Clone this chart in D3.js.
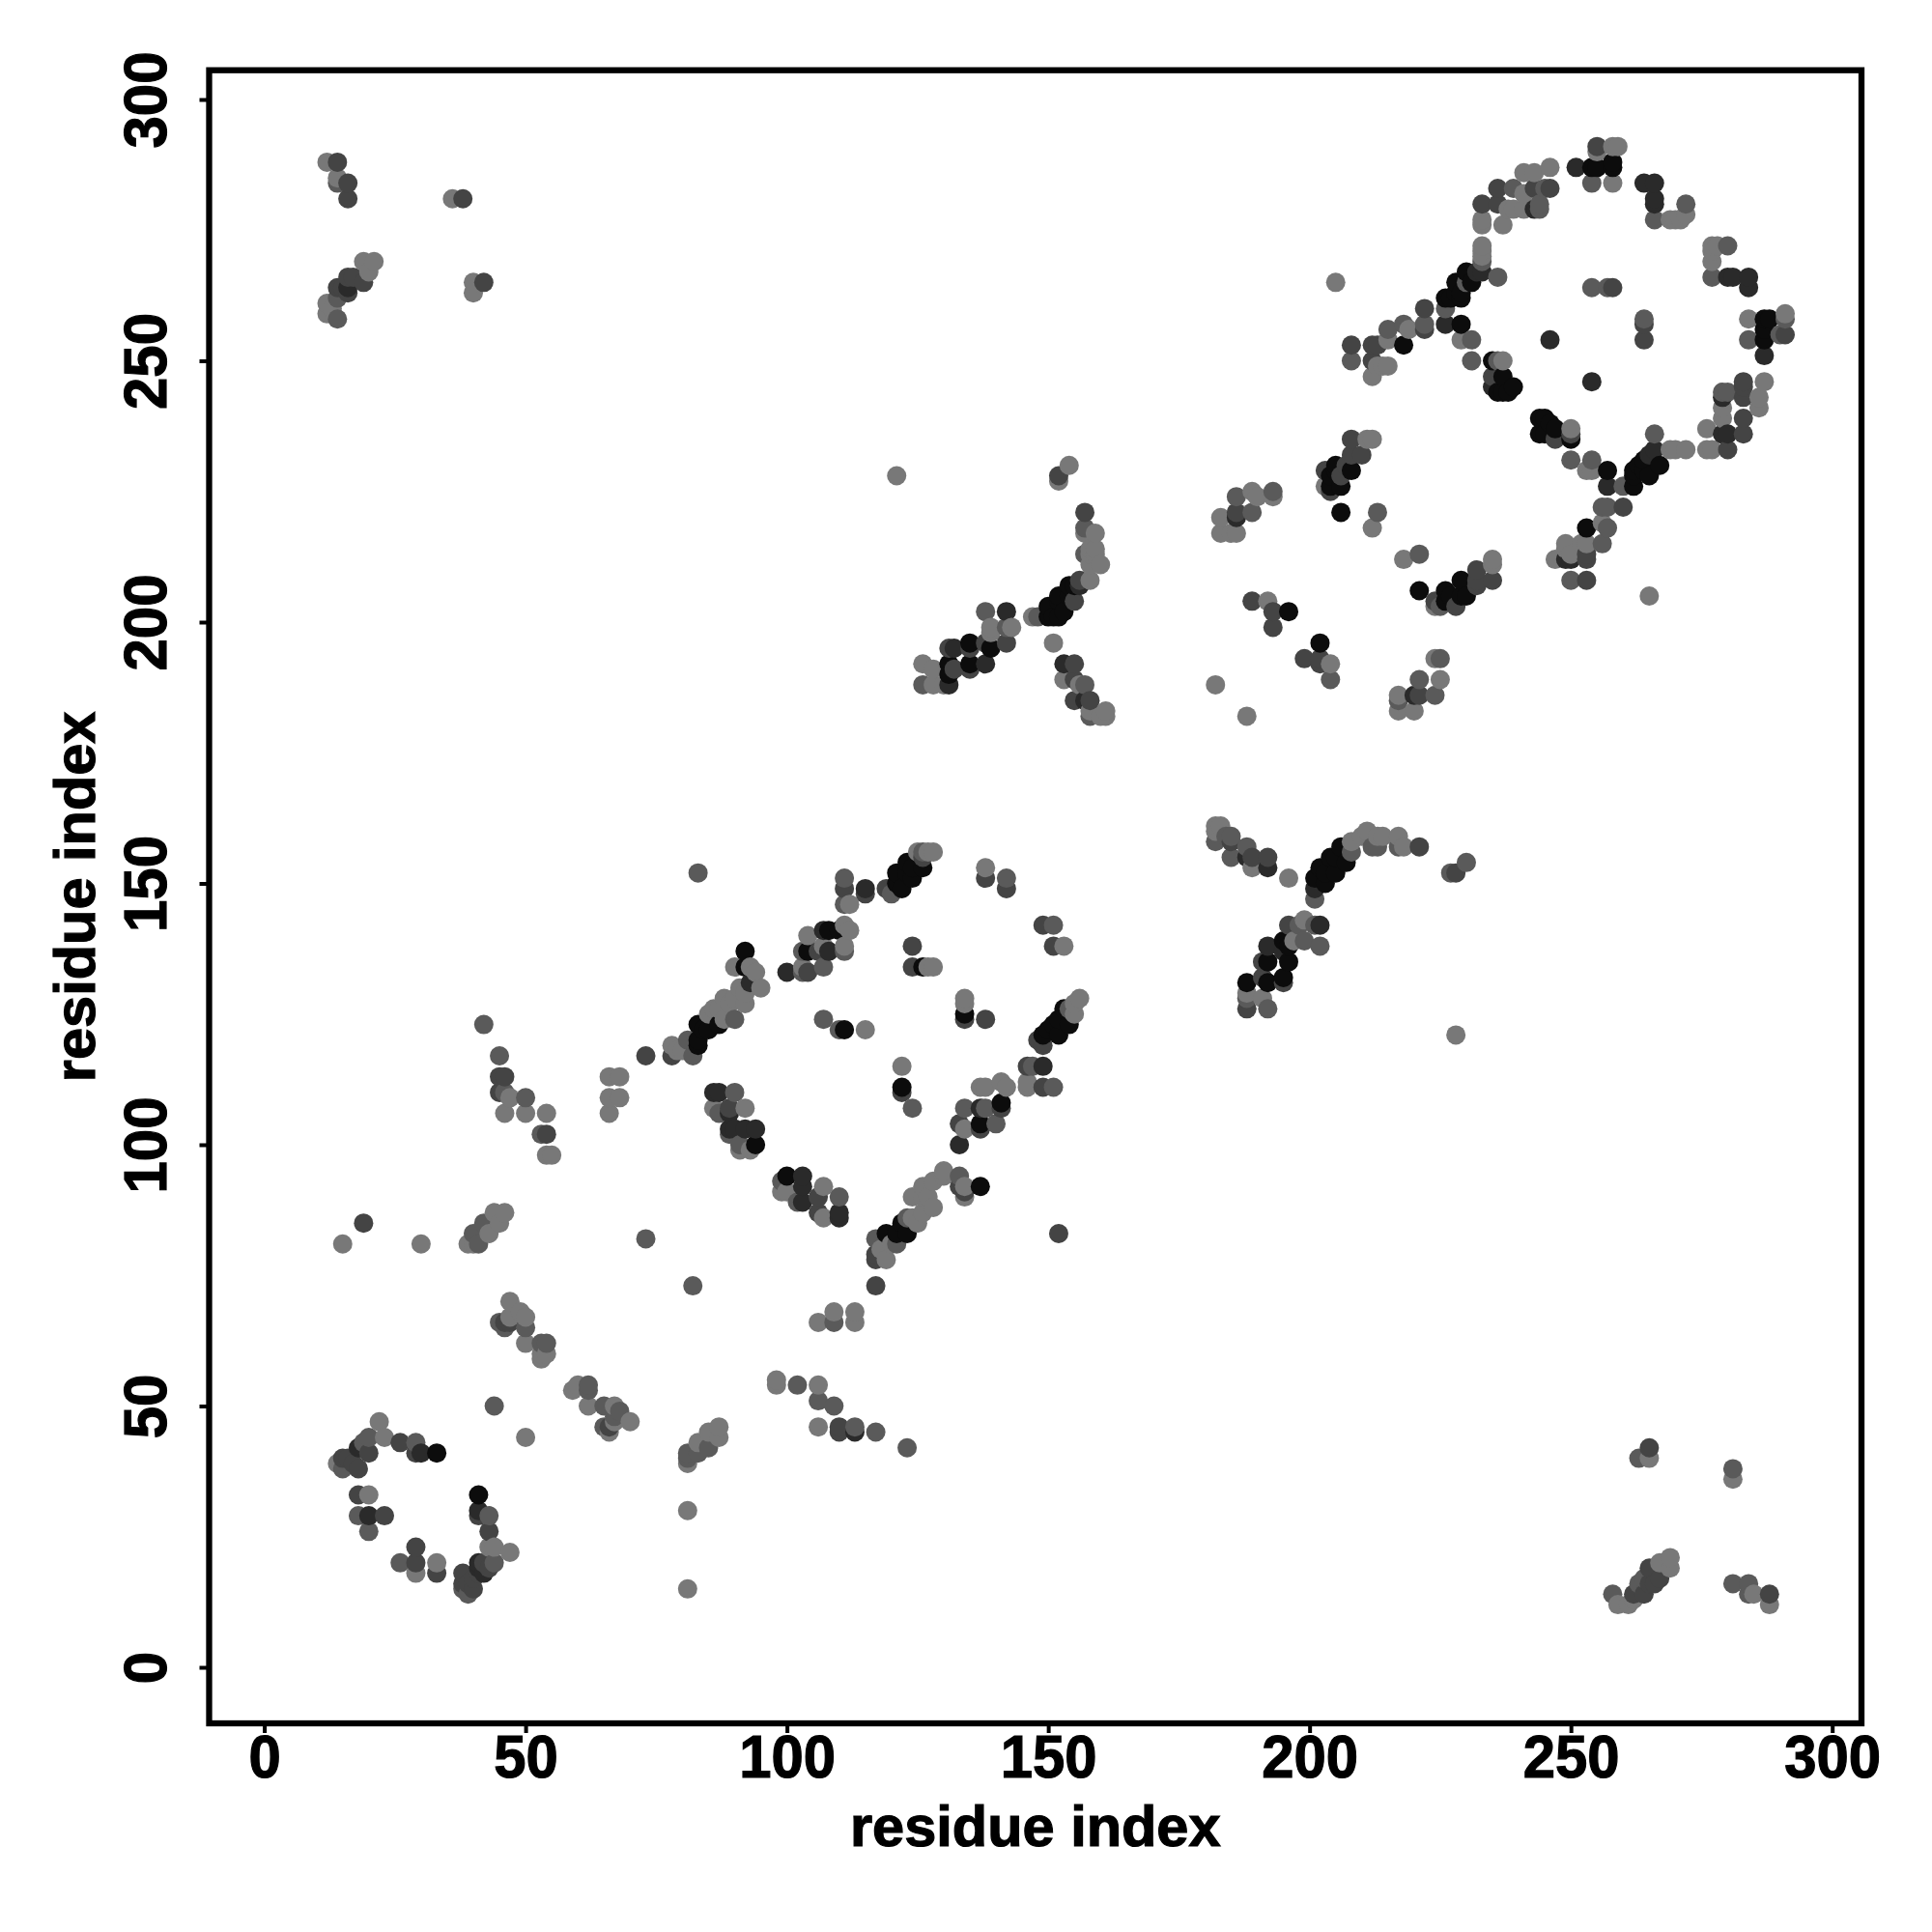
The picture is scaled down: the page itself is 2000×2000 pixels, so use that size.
<!DOCTYPE html>
<html><head><meta charset="utf-8">
<script src="https://cdn.jsdelivr.net/npm/d3@7"></script>
<style>html,body{margin:0;background:#fff}svg{display:block}</style></head>
<body><svg id="c" width="2000" height="2000"></svg>
<script>
const tickValues=[0,50,100,150,200,250,300];
const axisTitle="residue index";
const shadeLight=[[15,81],[30,81],[39,81],[40,81],[43,83],[45,85],[44,87],[46,87],[47,70],[49,68],[50,67],[47,67],[50,62],[53,59],[54,60],[53,60],[50,44],[59,53],[60,54],[62,50],[67,50],[70,47],[66,45],[67,47],[81,39],[83,43],[85,45],[87,46],[87,44],[81,30],[81,15],[22,47],[23,44],[14,39],[20,33],[33,20],[29,18],[43,23],[44,23],[47,22],
[112,146],[125,156],[127,156],[128,156],[138,153],[153,138],[127,134],[128,134],[134,128],[134,127],[115,122],[122,115],[90,134],[93,134],[94,133],[95,130],[92,129],[88,128],[91,130],[90,128],[92,127],[89,127],[86,126],[85,125],[78,119],[79,118],[80,118],[88,124],[87,126],[68,113],[68,109],[66,113],[66,109],[66,106],[104,140],[111,142],[112,141],[111,138],[107,138],[103,134],[86,107],[92,107],[91,99],[93,99],[99,91],[100,91],[107,92],[107,86],[134,103],[137,111],[138,111],[141,112],[142,111],[146,112],[146,111],[156,128],[155,127],[155,125],[134,92],[134,90],[130,95],[130,94],[128,93],[126,92],[124,90],[126,90],[128,88],[125,85],[119,78],[120,81],[126,87],[124,86],[127,90],[118,80],
[46,106],[50,106],[54,106],[54,98],[55,98],[47,109],[106,66],[109,68],[113,68],[113,66],[98,55],[98,54],[106,54],[106,46],
[12,288],[14,285],[36,281],[40,265],[40,263],[19,269],[21,269],[20,267],[12,261],[12,259],[13,260],[265,40],[281,36],[285,14],[288,12],[259,12],[261,12],[262,13],[267,20],[269,21],[269,19],
[182,161],[183,161],[182,160],[189,153],[196,151],[208,158],[211,160],[210,159],[213,159],[214,159],[217,159],[218,157],[228,121],[199,143],[197,139],[188,129],[191,128],
[121,228],[154,230],[152,227],[159,217],[157,217],[159,214],[159,213],[160,211],[158,211],[158,208],[147,201],[158,213],[158,214],[151,196],[139,199],[143,199],[139,198],[126,192],[128,191],[128,188],[130,188],[153,189],[156,188],[158,183],[161,183],[161,182],[160,182],[182,188],[188,182],[189,225],[190,224],[193,224],[183,220],[183,217],[185,217],[186,217],[192,204],[204,192],[212,218],[218,212],[235,212],[235,211],[224,203],[224,193],[225,189],[217,186],[217,183],[220,183],[211,235],[212,235],[203,226],
[259,291],[258,291],[255,290],[258,284],[269,277],[270,277],[271,277],[272,278],[246,287],[243,286],[241,286],[238,279],[239,279],[241,282],[241,279],[233,277],[233,276],[237,276],[233,272],[233,271],[233,270],[219,256],[215,254],[213,249],[214,249],[215,249],[212,247],[229,254],[277,272],[278,272],[277,271],[277,269],[284,258],[291,259],[287,246],[286,243],[286,241],[279,241],[279,239],[276,237],[276,233],[277,233],[272,233],[270,233],[269,233],[253,229],[254,229],[256,219],[249,215],[252,215],[253,215],[249,214],[250,213],[247,212],[265,205],[250,237],[237,250],[205,265]];
const shadeMid=[[40,83],[41,81],[42,85],[73,82],[82,73],[50,65],[45,66],[46,65],[53,62],[54,62],[44,50],[62,54],[62,53],[65,50],[68,49],[67,48],[65,46],[81,41],[83,41],[85,42],[81,40],[20,44],[29,43],[19,43],[15,38],[18,29],[20,26],[26,20],[43,29],[44,20],[39,14],[38,15],
[83,152],[111,151],[111,146],[120,148],[126,156],[142,151],[151,142],[107,124],[110,122],[124,107],[90,124],[81,120],[82,117],[107,134],[103,137],[111,137],[103,133],[90,110],[87,106],[89,102],[91,100],[99,93],[102,89],[110,90],[134,107],[138,107],[140,104],[147,115],[151,111],[154,126],[133,94],[117,82],[121,81],[123,86],
[42,123],[45,117],[46,110],[50,109],[53,102],[109,66],[102,54],[106,51],[109,50],[113,46],[117,45],[123,42],[14,284],[14,262],[14,258],[263,40],[281,38],[281,16],[284,16],[284,14],[258,14],[263,16],[264,17],
[182,158],[185,159],[185,155],[184,159],[188,157],[201,147],[208,156],[212,157],[213,157],[217,157],[227,152],[230,154],[198,142],[201,142],[202,138],[199,139],[188,128],[192,126],
[157,218],[157,213],[148,201],[138,202],[142,199],[126,188],[157,188],[158,182],[186,224],[193,225],[189,221],[204,189],[213,221],[221,213],[225,203],[225,193],[221,189],[224,186],[217,185],
[254,284],[272,280],[266,277],[239,283],[245,283],[244,279],[244,280],[233,269],[236,266],[226,260],[222,257],[218,257],[215,256],[208,250],[231,254],[231,250],[230,265],[254,264],[257,264],[264,258],[280,272],[277,266],[284,254],[291,258],[290,255],[279,244],[280,244],[266,236],[260,226],[254,231],[250,231],[256,222],[257,222],[257,218],[256,215],[250,208],[236,250]];
const shadeDim=[[19,85],[47,66],[46,66],[66,46],[26,43],[29,41],[20,41],[15,40],[16,40],[18,38],[17,39],[18,33],[23,29],[29,23],[29,20],[33,18],[41,29],[43,26],[42,20],[43,19],[41,18],[38,18],[40,15],[38,16],[39,16],[40,17],
[111,149],[115,148],[119,149],[126,155],[138,151],[142,149],[149,142],[151,138],[124,138],[124,134],[134,124],[138,124],[122,110],[78,117],[73,117],[104,133],[106,137],[89,107],[106,90],[106,87],[133,104],[137,103],[141,107],[146,115],[149,111],[148,120],[149,119],[133,92],[134,91],[117,79],[117,78],[152,83],[117,73],
[45,113],[46,113],[45,110],[54,102],[110,46],[110,45],[14,288],[16,284],[16,281],[38,281],[42,265],[19,265],[16,266],[17,266],[16,263],[14,264],[15,264],[265,42],[288,14],[262,14],[264,14],[265,19],[265,16],[266,16],[267,17],
[185,158],[189,155],[192,155],[221,157],[228,152],[196,142],[191,135],[195,131],[191,132],[188,126],
[152,228],[157,221],[156,208],[155,204],[142,196],[138,196],[135,195],[131,195],[135,191],[132,191],[155,192],[155,189],[155,185],[158,185],[186,221],[189,204],[193,202],[193,199],[199,193],[202,193],[202,192],[221,186],[232,210],[235,208],[232,207],[224,204],[228,203],[232,208],[208,235],[210,232],[208,232],[203,229],[204,225],[206,228],[207,230],
[255,291],[236,283],[243,283],[246,283],[233,280],[236,280],[222,260],[222,256],[212,253],[213,253],[208,253],[212,250],[258,264],[264,257],[264,254],[291,255],[283,246],[283,245],[283,243],[283,239],[283,236],[280,233],[260,222],[253,212],[253,213],[253,208],[247,235],[250,236],[235,247]];
const shadeDark=[[30,41],[18,42],[20,29],[41,30],[41,20],[42,18],[41,19],
[115,149],[93,131],[100,133],[107,141],[108,137],[86,110],[87,110],[89,106],[89,103],[90,103],[92,103],[94,103],[103,94],[103,92],[103,89],[110,87],[110,86],[133,100],[137,107],[149,115],[16,264],[113,45],
[188,155],[192,153],[201,149],[202,142],[192,138],[195,137],[142,202],[132,195],[138,192],[131,188],[153,192],[157,185],[186,220],[220,186],[156,207],
[251,287],[264,284],[266,284],[266,281],[266,280],[243,279],[233,267],[226,257],[232,267],[246,254],[254,246],[280,266],[281,266],[284,266],[284,264],[287,251],[279,243],[279,236],[280,236],[266,233],[257,226],[265,232],[249,212],[250,212],[235,245]];
const shadeBlack=[[33,41],[41,33],
[121,150],[122,149],[121,152],[123,152],[123,154],[124,151],[124,153],[126,153],[126,134],[134,125],[111,122],[122,111],[92,137],[92,134],[87,123],[83,123],[85,122],[84,122],[83,120],[83,119],[104,137],[108,141],[110,141],[94,100],[100,94],[137,104],[141,108],[149,121],[151,123],[153,126],[154,123],[152,121],[150,122],[152,124],[137,92],[123,83],[122,85],[121,83],[119,83],
[201,151],[202,153],[203,150],[204,155],[205,152],[206,157],[207,154],[203,152],[205,155],[196,138],[195,139],[196,135],[192,135],[195,132],[192,131],[188,131],
[155,207],[154,207],[154,205],[152,205],[152,204],[150,203],[153,202],[151,201],[150,201],[152,201],[139,195],[135,196],[131,192],[131,190],[135,192],[196,202],[202,196],[206,221],[221,206],[229,208],[229,205],[226,206],[226,204],[230,205],[227,205],[208,229],[205,230],[205,229],[206,226],[204,226],[204,228],
[254,287],[255,287],[258,288],[258,287],[230,267],[228,265],[231,265],[229,263],[226,262],[227,262],[229,262],[229,257],[218,253],[228,263],[287,258],[288,258],[287,256],[287,254],[267,230],[264,231],[264,229],[262,229],[262,228],[265,228],[262,226],[257,229],[263,230],[253,218],[244,239],[245,239],[244,236],[247,237],[250,235],[245,236],[246,238],[235,250],[237,247],[236,244],[237,244],[239,245],[238,244]];

const shadeColors=["#787878","#5a5a5a","#444444","#2a2a2a","#0c0c0c"];
const shadeSeries=[shadeLight,shadeMid,shadeDim,shadeDark,shadeBlack];
const points=shadeSeries.flatMap((list,k)=>list.map(p=>({i:p[0],j:p[1],c:shadeColors[k]})))
  .sort((a,b)=>a.i-b.i||a.j-b.j);

const left=216.5,right=1927,top_=72.7,bottom=1784;
const x=d3.scaleLinear().domain([-10.55,305.6]).range([left,right]);
const y=d3.scaleLinear().domain([-10.72,305.6]).range([bottom,top_]);
const svg=d3.select("#c");
const font="'Liberation Sans',Arial,sans-serif";

svg.append("g").selectAll("circle").data(points).join("circle")
  .attr("cx",d=>x(d.i)).attr("cy",d=>y(d.j)).attr("r",10).attr("fill",d=>d.c);

svg.append("rect").attr("x",left).attr("y",top_).attr("width",right-left).attr("height",bottom-top_)
  .attr("fill","none").attr("stroke","#000").attr("stroke-width",6.3);

const gx=svg.append("g").attr("transform",`translate(0,${bottom})`)
  .call(d3.axisBottom(x).tickValues(tickValues).tickSize(10).tickFormat(d3.format("d")));
const gy=svg.append("g").attr("transform",`translate(${left},0)`)
  .call(d3.axisLeft(y).tickValues(tickValues).tickSize(10).tickFormat(d3.format("d")));
[gx,gy].forEach(g=>{g.select(".domain").remove();
  g.selectAll("line").attr("stroke","#000").attr("stroke-width",4);
  g.selectAll("text").attr("fill","#000").attr("stroke","#000").attr("stroke-width",1.2)
    .attr("font-family",font).attr("font-weight","bold").attr("font-size",63)
    .attr("x",0).attr("y",0).attr("dy",0).attr("text-anchor","middle");});
gx.selectAll("text").attr("transform",`translate(0,56) scale(.95,1)`);
gy.selectAll("text").attr("transform",`translate(${172-left},0) rotate(-90) scale(.95,1)`);

svg.append("text").attr("x",(left+right)/2).attr("y",1911).attr("text-anchor","middle")
  .attr("font-family",font).attr("font-weight","bold").attr("font-size",59.5).attr("stroke","#000").attr("stroke-width",1.2).text(axisTitle);
svg.append("text").attr("transform",`translate(98,${(top_+bottom)/2}) rotate(-90)`).attr("text-anchor","middle")
  .attr("font-family",font).attr("font-weight","bold").attr("font-size",59.5).attr("stroke","#000").attr("stroke-width",1.2).text(axisTitle);
</script></body></html>
